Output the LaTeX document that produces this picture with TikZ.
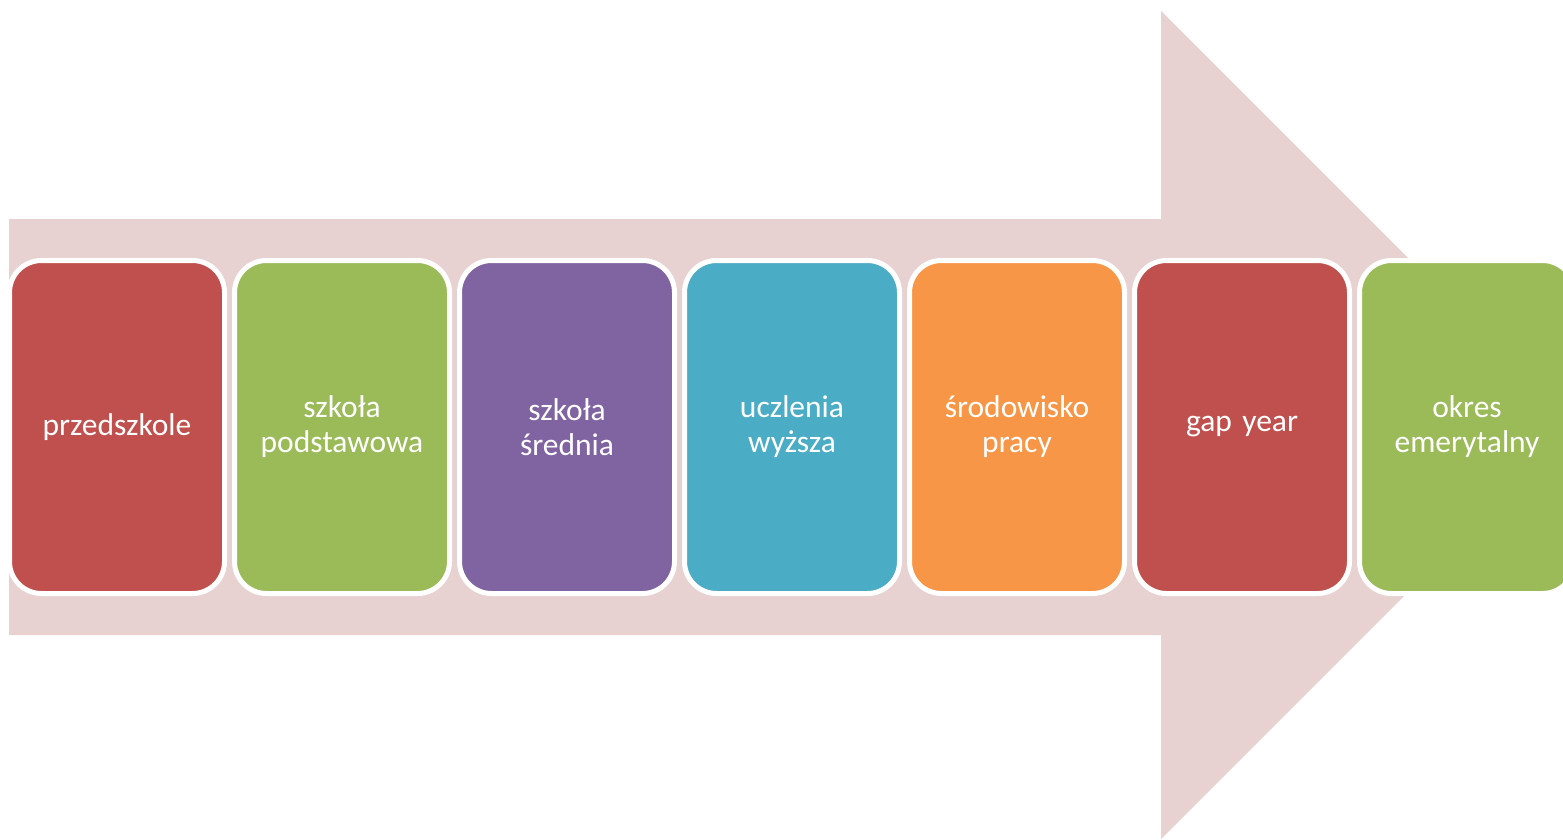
\documentclass[tikz,border=0pt]{standalone}
\usepackage{fontspec}
\setmainfont{Carlito}
\definecolor{arrowpink}{RGB}{231,209,209}
\definecolor{cred}{RGB}{192,80,77}
\definecolor{cgreen}{RGB}{155,187,89}
\definecolor{cpurple}{RGB}{128,100,162}
\definecolor{ccyan}{RGB}{75,172,198}
\definecolor{corange}{RGB}{247,150,70}
\begin{document}
\begin{tikzpicture}[x=1pt,y=-1pt,
  stage/.style={draw=white, line width=5pt, rounded corners=32pt,
    minimum width=215pt, minimum height=333pt, inner sep=0pt,
    text=white, align=center, text width=210pt,
    font=\fontsize{31.5}{35}\selectfont}]
  \useasboundingbox (0,0) rectangle (1563,839);
  \clip (0,0) rectangle (1563,839);
  % broad background arrow
  \fill[arrowpink] (9,219) -- (1161,219) -- (1161,11) -- (1575,425)
    -- (1161,839) -- (1161,635) -- (9,635) -- cycle;
  % stages of life
  \node[stage, fill=cred]    (b1) at (117,427)  {przedszkole};
  \node[stage, fill=cgreen]  (b2) at (342,427)  {szkoła\\podstawowa};
  \node[stage, fill=cpurple] (b3) at (567,427)  {szkoła\\średnia};
  \node[stage, fill=ccyan]   (b4) at (792,427)  {uczlenia\\wyższa};
  \node[stage, fill=corange] (b5) at (1017,427) {środowisko\\pracy};
  \node[stage, fill=cred]    (b6) at (1242,427) {gap year};
  \node[stage, fill=cgreen]  (b7) at (1467,427) {okres\\emerytalny};
\end{tikzpicture}
\end{document}
